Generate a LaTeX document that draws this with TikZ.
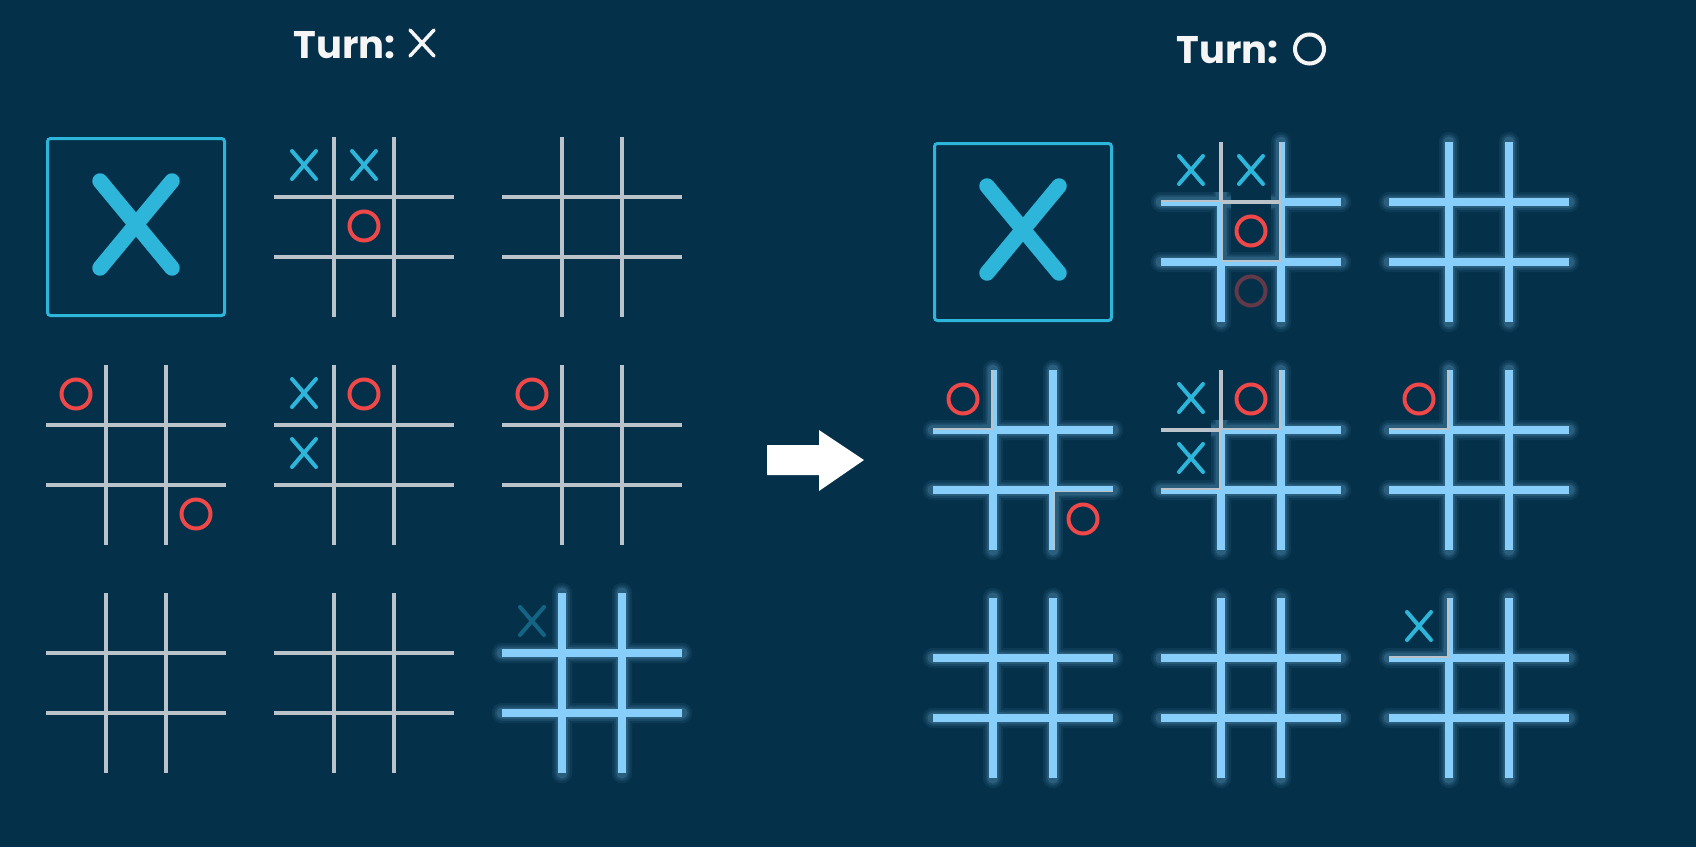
\documentclass[tikz,border=0pt]{standalone}
\usepackage{fontspec}
\setmainfont{Poppins}
\usepackage{xcolor}
\usepackage{tikz}
\definecolor{bgNavy}{HTML}{04304A}
\definecolor{gridGray}{HTML}{B9C3C9}
\definecolor{xCyan}{HTML}{2DB6DA}
\definecolor{oRed}{HTML}{F04848}
\definecolor{hlBlue}{HTML}{87CEFA}
\definecolor{inkW}{HTML}{F5F5F5}
\tikzset{
  gridline/.style={draw=gridGray, line width=3.5pt},
  hlline/.style={draw=hlBlue, line width=8pt},
  glowline/.style={draw=hlBlue, line cap=round},
  xstroke/.style={draw=xCyan, line width=4pt, line cap=round},
  ostroke/.style={draw=oRed, line width=4pt},
  ghost/.style={opacity=0.4},
  wonbox/.style={draw=xCyan, line width=3pt, rounded corners=3pt,
                 minimum size=177pt, inner sep=0pt},
  bigx/.style={draw=xCyan, line width=15.5pt, line cap=round},
  turnlabel/.style={text=inkW, font=\fontsize{38.5}{42}\selectfont\bfseries,
                    inner sep=0pt},
  titleicon/.style={draw=inkW, line width=3.5pt, line cap=round},
  nextarrow/.style={fill=white},
}
% board lines, #2/#3 = top left corner of the board
\newcommand\gridpath[3][]{%
  \draw[#1] (#2+60,#3) -- ++(0,180) (#2+120,#3) -- ++(0,180)
            (#2,#3+60) -- ++(180,0) (#2,#3+120) -- ++(180,0);}
% marks: board x, board y, row, column
\newcommand\xat[5][]{%
  \draw[xstroke,#1] (#2+18+60*#5,#3+14+60*#4) -- ++(24,28) ++(0,-28) -- ++(-24,28);}
\newcommand\oat[5][]{%
  \draw[ostroke,#1] (#2+30+60*#5,#3+29+60*#4) circle[radius=14.5];}
% glow and highlight for the free cells of a board
\newcommand\glowcells[3]{%
  \foreach \gw/\go in {20/0.07,15/0.10,11/0.16}{
    \begin{scope}[transparency group, opacity=\go]
      \foreach \r/\c in #3{
        \begin{scope}
          \clip (#1+60*\c-10,#2+60*\r-10) rectangle ++(80,80);
          \gridpath[glowline, line width=\gw pt]{#1}{#2}
        \end{scope}}
    \end{scope}}}
\newcommand\hlcells[3]{%
  \foreach \r/\c in #3{
    \begin{scope}
      \clip (#1+60*\c,#2+60*\r) rectangle ++(60,60);
      \gridpath[hlline]{#1}{#2}
    \end{scope}}}
\def\allcells{0/0,0/1,0/2,1/0,1/1,1/2,2/0,2/1,2/2}

\begin{document}
\begin{tikzpicture}[x=1pt, y=-1pt]
  \fill[bgNavy] (0,0) rectangle (1696,847);
  \useasboundingbox (0,0) rectangle (1696,847);

  % titles
  \node[turnlabel, anchor=base east] (turnX) at (396,58) {Turn:};
  \draw[titleicon] ([shift={(14,-28)}]turnX.base east) -- ++(24,26)
                   ([shift={(38,-28)}]turnX.base east) -- ++(-24,26);
  \node[turnlabel, anchor=base east] (turnO) at (1279,63) {Turn:};
  \draw[titleicon, line width=4pt] ([shift={(30.5,-14)}]turnO.base east) circle[radius=14.5];

  % left: X to move
  \node[wonbox] (wonL) at (136,227) {};
  \draw[bigx] ([shift={(-36,-46)}]wonL.center) -- ++(72,87)
              ([shift={(36,-46)}]wonL.center) -- ++(-72,87);
  \gridpath[gridline]{274}{137}
  \xat{274}{137}{0}{0} \xat{274}{137}{0}{1} \oat{274}{137}{1}{1}
  \gridpath[gridline]{502}{137}
  \gridpath[gridline]{46}{365}
  \oat{46}{365}{0}{0} \oat{46}{365}{2}{2}
  \gridpath[gridline]{274}{365}
  \xat{274}{365}{0}{0} \oat{274}{365}{0}{1} \xat{274}{365}{1}{0}
  \gridpath[gridline]{502}{365}
  \oat{502}{365}{0}{0}
  \gridpath[gridline]{46}{593}
  \gridpath[gridline]{274}{593}
  \glowcells{502}{593}{\allcells}
  \gridpath[gridline]{502}{593}
  \hlcells{502}{593}{\allcells}
  \xat[ghost]{502}{593}{0}{0}

  % arrow
  \fill[nextarrow] (767,445) -- (819,445) -- (819,430) -- (864,460)
                   -- (819,491) -- (819,475) -- (767,475) -- cycle;

  % right: O to move, every open board is free
  \node[wonbox] (wonR) at (1023,232) {};
  \draw[bigx] ([shift={(-36,-46)}]wonR.center) -- ++(72,87)
              ([shift={(36,-46)}]wonR.center) -- ++(-72,87);
  \glowcells{1161}{142}{{0/2,1/0,1/2,2/0,2/1,2/2}}
  \gridpath[gridline]{1161}{142}
  \hlcells{1161}{142}{{0/2,1/0,1/2,2/0,2/1,2/2}}
  \xat{1161}{142}{0}{0} \xat{1161}{142}{0}{1} \oat{1161}{142}{1}{1}
  \oat[ghost]{1161}{142}{2}{1}
  \glowcells{1389}{142}{\allcells}
  \gridpath[gridline]{1389}{142}
  \hlcells{1389}{142}{\allcells}
  \glowcells{933}{370}{{0/1,0/2,1/0,1/1,1/2,2/0,2/1}}
  \gridpath[gridline]{933}{370}
  \hlcells{933}{370}{{0/1,0/2,1/0,1/1,1/2,2/0,2/1}}
  \oat{933}{370}{0}{0} \oat{933}{370}{2}{2}
  \glowcells{1161}{370}{{0/2,1/1,1/2,2/0,2/1,2/2}}
  \gridpath[gridline]{1161}{370}
  \hlcells{1161}{370}{{0/2,1/1,1/2,2/0,2/1,2/2}}
  \xat{1161}{370}{0}{0} \oat{1161}{370}{0}{1} \xat{1161}{370}{1}{0}
  \glowcells{1389}{370}{{0/1,0/2,1/0,1/1,1/2,2/0,2/1,2/2}}
  \gridpath[gridline]{1389}{370}
  \hlcells{1389}{370}{{0/1,0/2,1/0,1/1,1/2,2/0,2/1,2/2}}
  \oat{1389}{370}{0}{0}
  \glowcells{933}{598}{\allcells}
  \gridpath[gridline]{933}{598}
  \hlcells{933}{598}{\allcells}
  \glowcells{1161}{598}{\allcells}
  \gridpath[gridline]{1161}{598}
  \hlcells{1161}{598}{\allcells}
  \glowcells{1389}{598}{{0/1,0/2,1/0,1/1,1/2,2/0,2/1,2/2}}
  \gridpath[gridline]{1389}{598}
  \hlcells{1389}{598}{{0/1,0/2,1/0,1/1,1/2,2/0,2/1,2/2}}
  \xat{1389}{598}{0}{0}
\end{tikzpicture}
\end{document}
